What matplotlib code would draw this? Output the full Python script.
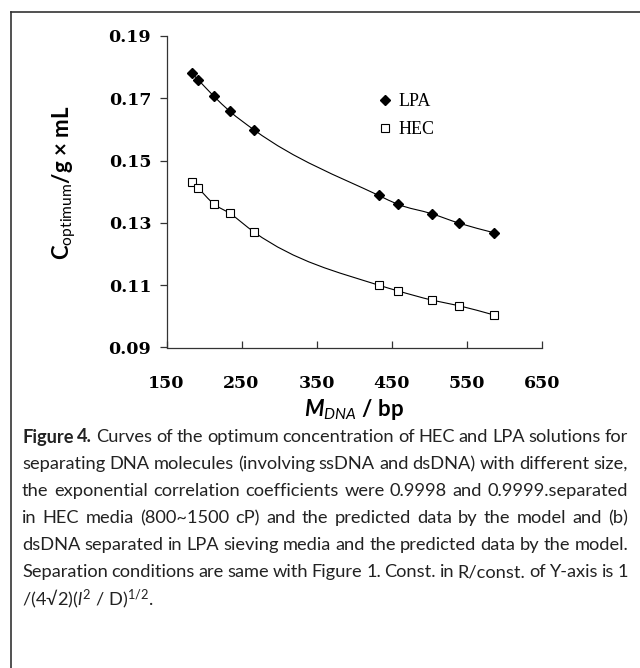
import matplotlib
matplotlib.use("Agg")
import matplotlib.pyplot as plt
from matplotlib.path import Path
from matplotlib.patches import PathPatch
from matplotlib.lines import Line2D

# data
size_bp = [184, 192, 213, 234, 267, 433, 458, 504, 540, 587]
lpa = [0.178, 0.176, 0.1707, 0.1659, 0.1598, 0.1388, 0.136, 0.1329, 0.1299, 0.1268]
hec = [0.143, 0.1412, 0.1361, 0.1331, 0.127, 0.110, 0.1082, 0.1052, 0.1034, 0.1004]
xticks = [150, 250, 350, 450, 550, 650]
yticks = [0.09, 0.11, 0.13, 0.15, 0.17, 0.19]

caption = [
    [("Figure", "bold"), ("4.", "bold"), "Curves of the optimum concentration of HEC and LPA solutions for"],
    ["separating DNA molecules (involving ssDNA and dsDNA) with different size,"],
    ["the exponential correlation coefficients were 0.9998 and 0.9999.separated"],
    ["in HEC media (800~1500 cP) and the predicted data by the model and (b)"],
    ["dsDNA separated in LPA sieving media and the predicted data by the model."],
    ["Separation conditions are same with Figure 1. Const. in R/const. of Y-axis is 1"],
]
last_line = r"/(4$√$2)($\mathit{l}^{2}$ / D)$^{1/2}$."

CAP_FONT = "Lato"
plt.rcParams["mathtext.fontset"] = "custom"
plt.rcParams["mathtext.rm"] = "Lato"
plt.rcParams["mathtext.it"] = "Lato:italic"
plt.rcParams["mathtext.bf"] = "Lato:bold"
plt.rcParams["mathtext.bfit"] = "Lato:italic:bold"
plt.rcParams["mathtext.fallback"] = "stixsans"

W, H = 640, 668
fig = plt.figure(figsize=(W / 100, H / 100), dpi=100)
ax = fig.add_axes([166.5 / W, 1 - 347.5 / H, 375.2 / W, 311.5 / H])


def smooth_path(xs, ys):
    # smoothed line through the points: cubic Hermite in x, drawn as Bezier
    n = len(xs)
    h = [xs[i + 1] - xs[i] for i in range(n - 1)]
    s = [(ys[i + 1] - ys[i]) / h[i] for i in range(n - 1)]
    d = [s[0]]
    for i in range(1, n - 1):
        d.append((h[i - 1] * s[i] + h[i] * s[i - 1]) / (h[i - 1] + h[i]))
    d.append(s[-1])
    verts = [(xs[0], ys[0])]
    codes = [Path.MOVETO]
    for i in range(n - 1):
        t = h[i] / 3
        verts += [(xs[i] + t, ys[i] + t * d[i]), (xs[i + 1] - t, ys[i + 1] - t * d[i + 1]),
                  (xs[i + 1], ys[i + 1])]
        codes += [Path.CURVE4] * 3
    return Path(verts, codes)


for ys in (lpa, hec):
    ax.add_patch(PathPatch(smooth_path(size_bp, ys), fill=False, lw=0.8, ec="black"))

ax.plot(size_bp, lpa, ls="none", marker="D", ms=5.5, mfc="black", mec="black", label="LPA")
ax.plot(size_bp, hec, ls="none", marker="s", ms=5.5, mfc="white", mec="black", mew=0.8, label="HEC")

ax.set_xlim(150, 650)
ax.set_ylim(0.09, 0.19)
ax.set_xticks(xticks)
ax.set_yticks(yticks)
ax.set_xticklabels([str(t) for t in xticks])
ax.set_yticklabels([f"{t:.2f}" for t in yticks])
for s in ("top", "right"):
    ax.spines[s].set_visible(False)
for s in ("left", "bottom"):
    ax.spines[s].set_linewidth(0.9)
    ax.spines[s].set_color("#333333")
ax.tick_params(axis="y", direction="out", length=5, width=0.9, pad=6, colors="#333333")
ax.tick_params(axis="x", direction="in", length=5, width=0.9, pad=20, colors="#333333")
for lab in ax.get_xticklabels() + ax.get_yticklabels():
    lab.set_fontfamily("DejaVu Serif")
    lab.set_fontweight("bold")
    lab.set_fontsize(12.5)
    lab.set_color("black")

ax.set_ylabel(r"C$_{\mathrm{optimum}}$/g × mL", family=CAP_FONT, fontweight="bold", fontsize=16)
ax.yaxis.set_label_coords(-0.237, 0.53)
ax.set_xlabel(r"$\mathbfit{M}_{\mathit{DNA}}$ / bp", family=CAP_FONT, fontweight="bold",
              fontsize=16, va="center")
ax.xaxis.set_label_coords(0.5, -0.2)

ax.legend(loc="upper left", bbox_to_anchor=(370 / W, 1 - 84 / H), bbox_transform=fig.transFigure,
          frameon=False, numpoints=1, handlelength=0.7, handletextpad=0.4, borderpad=0,
          labelspacing=0.6, prop={"family": "Liberation Serif", "size": 13})

# border lines of the figure panel
fig.add_artist(Line2D([11 / W, 1], [1 - 12 / H, 1 - 12 / H], transform=fig.transFigure, color="#333333", lw=1.2))
fig.add_artist(Line2D([11 / W, 11 / W], [0, 1 - 12 / H], transform=fig.transFigure, color="#333333", lw=1.2))

# caption, justified line by line
renderer = fig.canvas.get_renderer()
x0, x1 = 22, 628
fs = 15
y0, dy = 437, 27
rows = []
for k, line in enumerate(caption):
    tokens = []
    for part in line:
        if isinstance(part, tuple):
            tokens.append(part)
        else:
            tokens += [(w, "normal") for w in part.split()]
    arts = [fig.text(0, 1 - (y0 + k * dy) / H, w, fontsize=fs, fontweight=wt, va="center",
                     family=[CAP_FONT, "DejaVu Sans"], color="#222222")
            for w, wt in tokens]
    rows.append(arts)

# shrink the caption font if a line would not fit with normal word spaces
scale = 1.0
for arts in rows:
    need = sum(a.get_window_extent(renderer).width for a in arts) + 0.2 * fs * 100 / 72 * (len(arts) - 1)
    scale = min(scale, (x1 - x0) / need)
for arts in rows:
    for a in arts:
        a.set_fontsize(fs * scale)
    widths = [a.get_window_extent(renderer).width for a in arts]
    gap = (x1 - x0 - sum(widths)) / (len(arts) - 1)
    x = x0
    for a, w in zip(arts, widths):
        a.set_x(x / W)
        x += w + gap
fig.text(x0 / W, 1 - (y0 + 6 * dy) / H, last_line, fontsize=fs * scale, va="center",
         family=[CAP_FONT, "DejaVu Sans"], color="#222222")

fig.savefig("out.png", dpi=100)
